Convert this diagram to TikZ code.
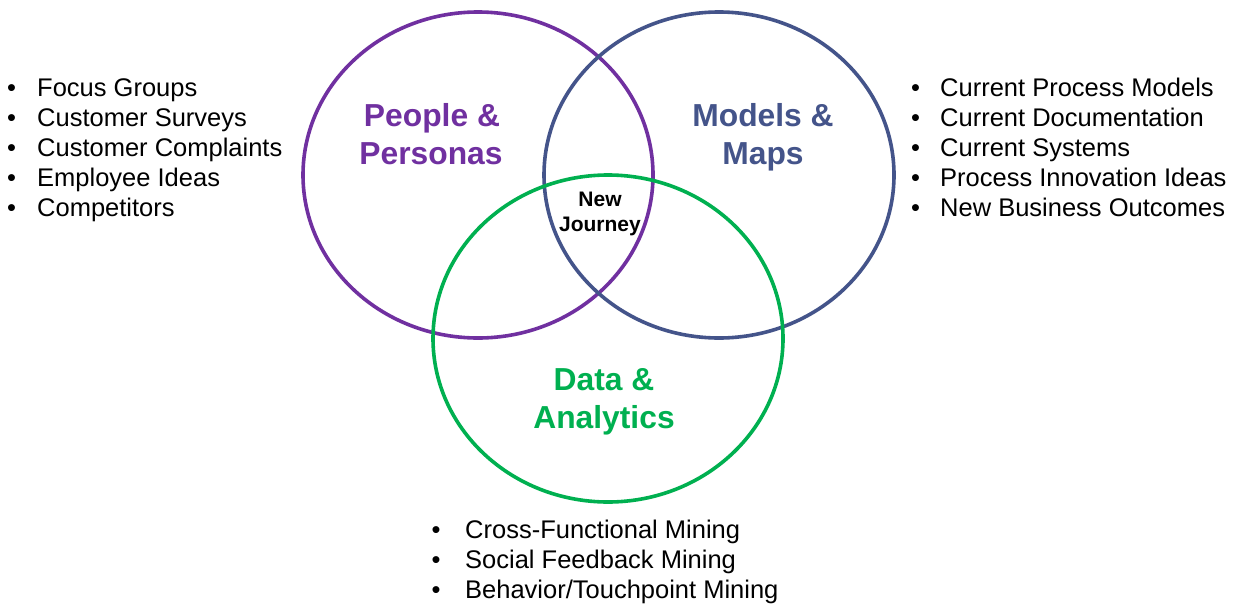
\documentclass[tikz,border=0pt]{standalone}
\usepackage{fontspec}
\setmainfont{Liberation Sans}
\definecolor{ppurple}{RGB}{112,48,160}
\definecolor{pblue}{RGB}{68,84,138}
\definecolor{pgreen}{RGB}{0,176,80}
\begin{document}
\begin{tikzpicture}[x=1pt,y=-1pt,
  ring/.style={line width=3.6pt},
  title/.style={font=\bfseries\fontsize{31.8}{37.5}\selectfont, align=center, inner sep=0pt, anchor=base},
  item/.style={font=\fontsize{25.5}{30}\selectfont, inner sep=0pt, anchor=base west},
  centertext/.style={font=\bfseries\fontsize{21}{25.7}\selectfont, inner sep=0pt, anchor=base}]
\useasboundingbox (0,0) rectangle (1234,605);
\fill[white] (0,0) rectangle (1234,605);
% circles
\draw[ring, ppurple] (478,175) ellipse [x radius=175, y radius=163];
\draw[ring, pblue] (719,175) ellipse [x radius=175, y radius=163];
\draw[ring, pgreen] (608,338.5) ellipse [x radius=175, y radius=163.5];
% titles
\node[title, text=ppurple] (pp1) at (432,126.7) {People \&};
\node[title, text=ppurple] (pp2) at (431,164) {Personas};
\node[title, text=pblue] (mm1) at (763,126.7) {Models \&};
\node[title, text=pblue] (mm2) at (763,164) {Maps};
\node[title, text=pgreen] (da1) at (604,390) {Data \&};
\node[title, text=pgreen] (da2) at (604,428.3) {Analytics};
\node[centertext] (nj1) at (600,206) {New};
\node[centertext] (nj2) at (600,231.7) {Journey};
% lists
\foreach \t [count=\i from 0] in {Focus Groups, Customer Surveys, Customer Complaints, Employee Ideas, Competitors}
  \node[item] (left\i) at (7,{96+30.2*\i}) {\makebox[30pt][l]{•}\t};
\foreach \t [count=\i from 0] in {Current Process Models, Current Documentation, Current Systems, Process Innovation Ideas, New Business Outcomes}
  \node[item] (right\i) at (911,{96+30.2*\i}) {\makebox[29pt][l]{•}\t};
\foreach \t [count=\i from 0] in {Cross-Functional Mining, Social Feedback Mining, Behavior/Touchpoint Mining}
  \node[item] (bot\i) at (431.5,{538.3+30*\i}) {\makebox[33.5pt][l]{•}\t};
\end{tikzpicture}
\end{document}
